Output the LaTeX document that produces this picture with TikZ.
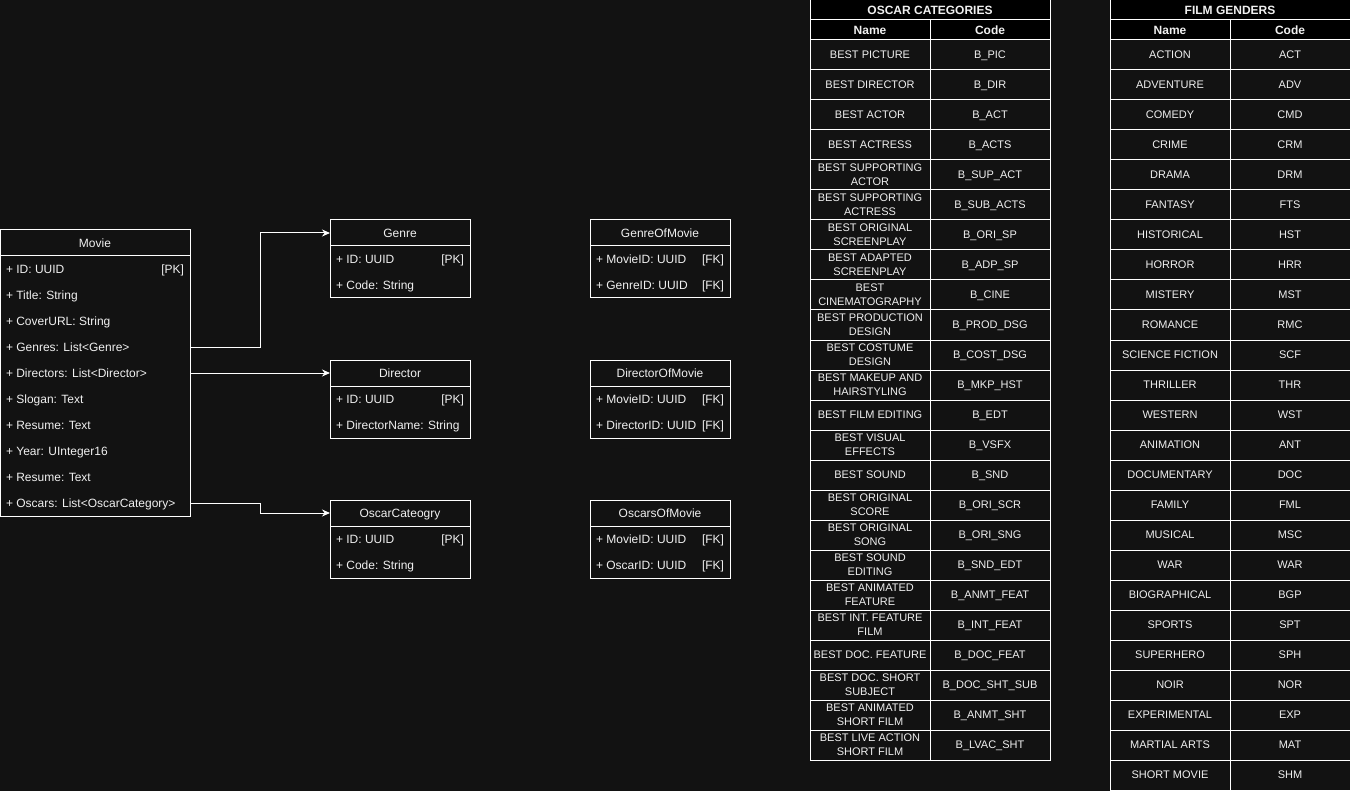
\documentclass[tikz,border=0pt]{standalone}
\usepackage{fontspec}
\setmainfont{Liberation Sans}
\usetikzlibrary{arrows.meta,positioning}

\definecolor{bg}{HTML}{121212}
\definecolor{ink}{HTML}{F0F0F0}

\begin{document}
\begin{tikzpicture}[x=1pt,y=-1pt,line width=1pt,color=white,text=ink,
  every node/.style={inner sep=0pt,outer sep=0pt},
  head/.style={draw,minimum width=140pt,minimum height=26pt,text height=11.6pt,text depth=3pt,
    font=\fontsize{12}{14}\selectfont},
  body/.style={draw,minimum width=140pt,minimum height=52pt},
  attr/.style={anchor=west,text height=11.6pt,text depth=3pt,font=\fontsize{12}{14}\selectfont},
  tabtitle/.style={draw,fill=black,minimum width=240pt,minimum height=20pt,font=\fontsize{12}{14}\bfseries\selectfont},
  colhead/.style={draw,fill=black,minimum width=120pt,minimum height=20pt,font=\fontsize{12}{14}\bfseries\selectfont},
  cell/.style={draw,minimum width=120pt,minimum height=30pt,align=center,font=\fontsize{11}{14}\selectfont},
  code/.style={cell,text height=10.9pt,text depth=3pt},
  link/.style={-{Stealth[length=8pt,width=7pt]}}]

  % Canvas
  \fill[bg] (0,0) rectangle (1351,791);
  \useasboundingbox (0,0) rectangle (1351,791);

  % Movie
  \node[head,minimum width=190pt,anchor=north west] (movie) at (0,230) {Movie};
  \node[body,minimum width=190pt,minimum height=260pt,anchor=north] (movie-body) at (movie.south) {};
  \foreach \txt [count=\i] in {+ ID: UUID,+ Title: String,+ CoverURL: String,
      + Genres: List<Genre>,+ Directors: List<Director>,+ Slogan: Text,
      + Resume: Text,+ Year: UInteger16,+ Resume: Text,+ Oscars: List<OscarCategory>}
    \node[attr] (movie-\i) at (6,243+26*\i) {\txt};
  \node[attr,anchor=east] (movie-pk) at (184,269) {[PK]};

  % Entities
  \foreach \id/\title/\y/\second in {genre/Genre/220/Code: String,
      director/Director/360/DirectorName: String,oscar/OscarCateogry/500/Code: String} {
    \node[head,anchor=north west] (\id) at (330,\y) {\title};
    \node[body,anchor=north] (\id-body) at (\id.south) {};
    \node[attr] (\id-1) at (336,\y+39) {+ ID: UUID};
    \node[attr,anchor=east] (\id-pk) at (464,\y+39) {[PK]};
    \node[attr] (\id-2) at (336,\y+65) {+ \second};
  }

  % Join tables
  \foreach \id/\title/\y/\key in {genreof/GenreOfMovie/220/GenreID,
      directorof/DirectorOfMovie/360/DirectorID,oscarof/OscarsOfMovie/500/OscarID} {
    \node[head,anchor=north west] (\id) at (590,\y) {\title};
    \node[body,anchor=north] (\id-body) at (\id.south) {};
    \node[attr] (\id-1) at (596,\y+39) {+ MovieID: UUID};
    \node[attr,anchor=east] (\id-fk1) at (724,\y+39) {[FK]};
    \node[attr] (\id-2) at (596,\y+65) {+ \key: UUID};
    \node[attr,anchor=east] (\id-fk2) at (724,\y+65) {[FK]};
  }

  % Links
  \draw[link] (movie-body.east |- movie-4) -- ++(70,0) |- (genre.west);
  \draw[link] (movie-body.east |- movie-5) -- (director);
  \draw[link] (movie-body.east |- movie-10) -- ++(70,0) |- (oscar.west);

  % Oscar categories
  \node[tabtitle,anchor=north west] (osc) at (810,0) {OSCAR CATEGORIES};
  \node[colhead,anchor=north west] (osc-name) at (810,20) {Name};
  \node[colhead,anchor=north west] (osc-code) at (930,20) {Code};
  \foreach \n/\c [count=\i] in {BEST PICTURE/B\_PIC,BEST DIRECTOR/B\_DIR,
      BEST ACTOR/B\_ACT,BEST ACTRESS/B\_ACTS,BEST SUPPORTING\\ACTOR/B\_SUP\_ACT,
      BEST SUPPORTING\\ACTRESS/B\_SUB\_ACTS,BEST ORIGINAL\\SCREENPLAY/B\_ORI\_SP,
      BEST ADAPTED\\SCREENPLAY/B\_ADP\_SP,BEST\\CINEMATOGRAPHY/B\_CINE,
      BEST PRODUCTION\\DESIGN/B\_PROD\_DSG,BEST COSTUME\\DESIGN/B\_COST\_DSG,
      BEST MAKEUP AND\\HAIRSTYLING/B\_MKP\_HST,BEST FILM EDITING/B\_EDT,
      BEST VISUAL\\EFFECTS/B\_VSFX,BEST SOUND/B\_SND,BEST ORIGINAL\\SCORE/B\_ORI\_SCR,
      BEST ORIGINAL\\SONG/B\_ORI\_SNG,BEST SOUND\\EDITING/B\_SND\_EDT,
      BEST ANIMATED\\FEATURE/B\_ANMT\_FEAT,BEST INT. FEATURE\\FILM/B\_INT\_FEAT,
      BEST DOC. FEATURE/B\_DOC\_FEAT,BEST DOC. SHORT\\SUBJECT/B\_DOC\_SHT\_SUB,
      BEST ANIMATED\\SHORT FILM/B\_ANMT\_SHT,BEST LIVE ACTION\\SHORT FILM/B\_LVAC\_SHT} {
    \node[cell] (osc-\i-n) at (870,25+30*\i) {\n};
    \node[code] (osc-\i-c) at (990,25+30*\i) {\c};
  }

  % Film genders
  \node[tabtitle,anchor=north west] (gen) at (1110,0) {FILM GENDERS};
  \node[colhead,anchor=north west] (gen-name) at (1110,20) {Name};
  \node[colhead,anchor=north west] (gen-code) at (1230,20) {Code};
  \foreach \n/\c [count=\i] in {ACTION/ACT,ADVENTURE/ADV,COMEDY/CMD,CRIME/CRM,
      DRAMA/DRM,FANTASY/FTS,HISTORICAL/HST,HORROR/HRR,MISTERY/MST,ROMANCE/RMC,
      SCIENCE FICTION/SCF,THRILLER/THR,WESTERN/WST,ANIMATION/ANT,DOCUMENTARY/DOC,
      FAMILY/FML,MUSICAL/MSC,WAR/WAR,BIOGRAPHICAL/BGP,SPORTS/SPT,SUPERHERO/SPH,
      NOIR/NOR,EXPERIMENTAL/EXP,MARTIAL ARTS/MAT,SHORT MOVIE/SHM} {
    \node[code] (gen-\i-n) at (1170,25+30*\i) {\n};
    \node[code] (gen-\i-c) at (1290,25+30*\i) {\c};
  }

\end{tikzpicture}
\end{document}
